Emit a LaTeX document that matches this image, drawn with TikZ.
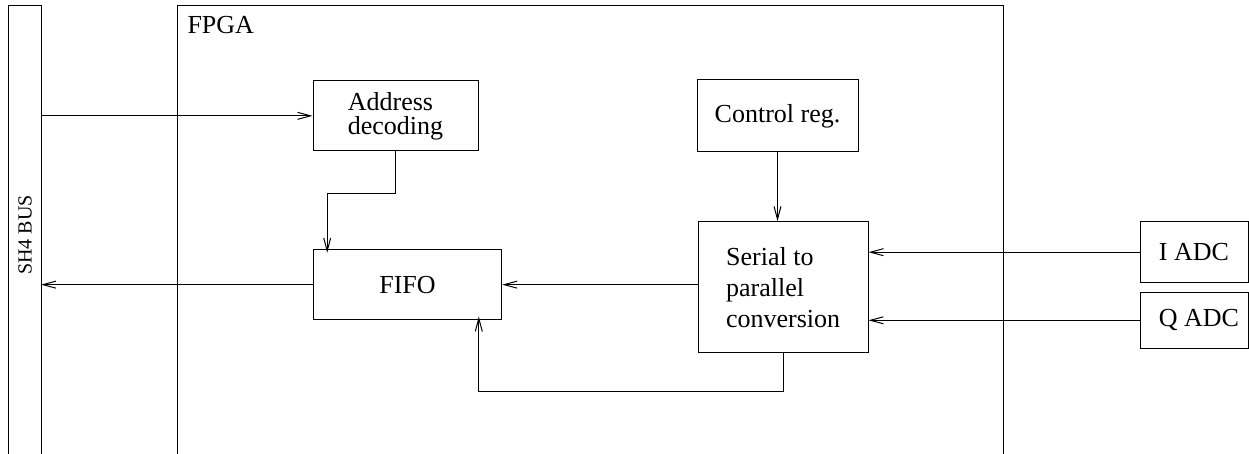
\documentclass[tikz,border=0pt]{standalone}
\usepackage{fontspec}
\setmainfont{Liberation Serif}
\usetikzlibrary{arrows.meta}
\begin{document}
\begin{tikzpicture}[x=0.5pt,y=-0.5pt,
    line width=0.5pt,
    block/.style={draw, inner sep=0pt, font=\fontsize{13pt}{15.5pt}\selectfont, align=left},
    arr/.style={-{Straight Barb[length=6.5pt,width=3.5pt,line width=0.5pt]}}]
  \useasboundingbox (0,0) rectangle (1249,454);

  % bus and FPGA outlines (open at the bottom)
  \draw (8,454) -- (8,5.7) -- (41,5.7) -- (41,454);
  \coordinate (busR) at (41,0);
  \node[rotate=90, font=\fontsize{10pt}{12pt}\selectfont] (buslabel) at (25,235) {SH4 BUS};
  \draw (177,454) -- (177,5.7) -- (1003,5.7) -- (1003,454);
  \node[anchor=base west, inner sep=0pt, font=\fontsize{13pt}{15.5pt}\selectfont] (fpgalabel) at (187,33.3) {FPGA};

  % functional blocks
  \node[block, minimum width=82.5pt, minimum height=35.15pt, font=\fontsize{13pt}{12pt}\selectfont]
    (addr) at (395.5,115.85) {Address\\decoding};
  \node[block, minimum width=94.2pt, minimum height=35.35pt] (fifo) at (407.5,284.65) {FIFO};
  \node[block, minimum width=80.5pt, minimum height=36pt] (ctrl) at (777.5,116) {Control reg.};
  \node[block, minimum width=84.85pt, minimum height=65.65pt] (serial) at (783.15,287.35)
    {Serial to\\parallel\\conversion};
  \node[block, minimum width=54pt, minimum height=30.5pt, align=center] (iadc) at (1194,252.2) {\raisebox{-4pt}{I ADC}};
  \node[block, minimum width=54pt, minimum height=28pt, align=center] (qadc) at (1194,320.3) {\hspace*{5pt}Q ADC};

  % connections
  \draw[arr] (addr -| busR) -- (addr.west);
  \draw[arr] (fifo.west) -- (fifo.west -| busR);
  \draw[arr, shorten >=-2pt] (addr.south) -- ++(0,42) -| ([xshift=7.2pt]fifo.north west);
  \draw[arr] (ctrl.south) -- (ctrl.south |- serial.north);
  \draw[arr] (fifo.east -| serial.west) -- (fifo.east);
  \draw[arr, shorten >=-2pt] (serial.south) -- ++(0,37.7) -| ([xshift=-11.7pt]fifo.south east);
  \draw[arr] (iadc.west) -- (iadc.west -| serial.east);
  \draw[arr] (qadc.west) -- (qadc.west -| serial.east);
\end{tikzpicture}
\end{document}
